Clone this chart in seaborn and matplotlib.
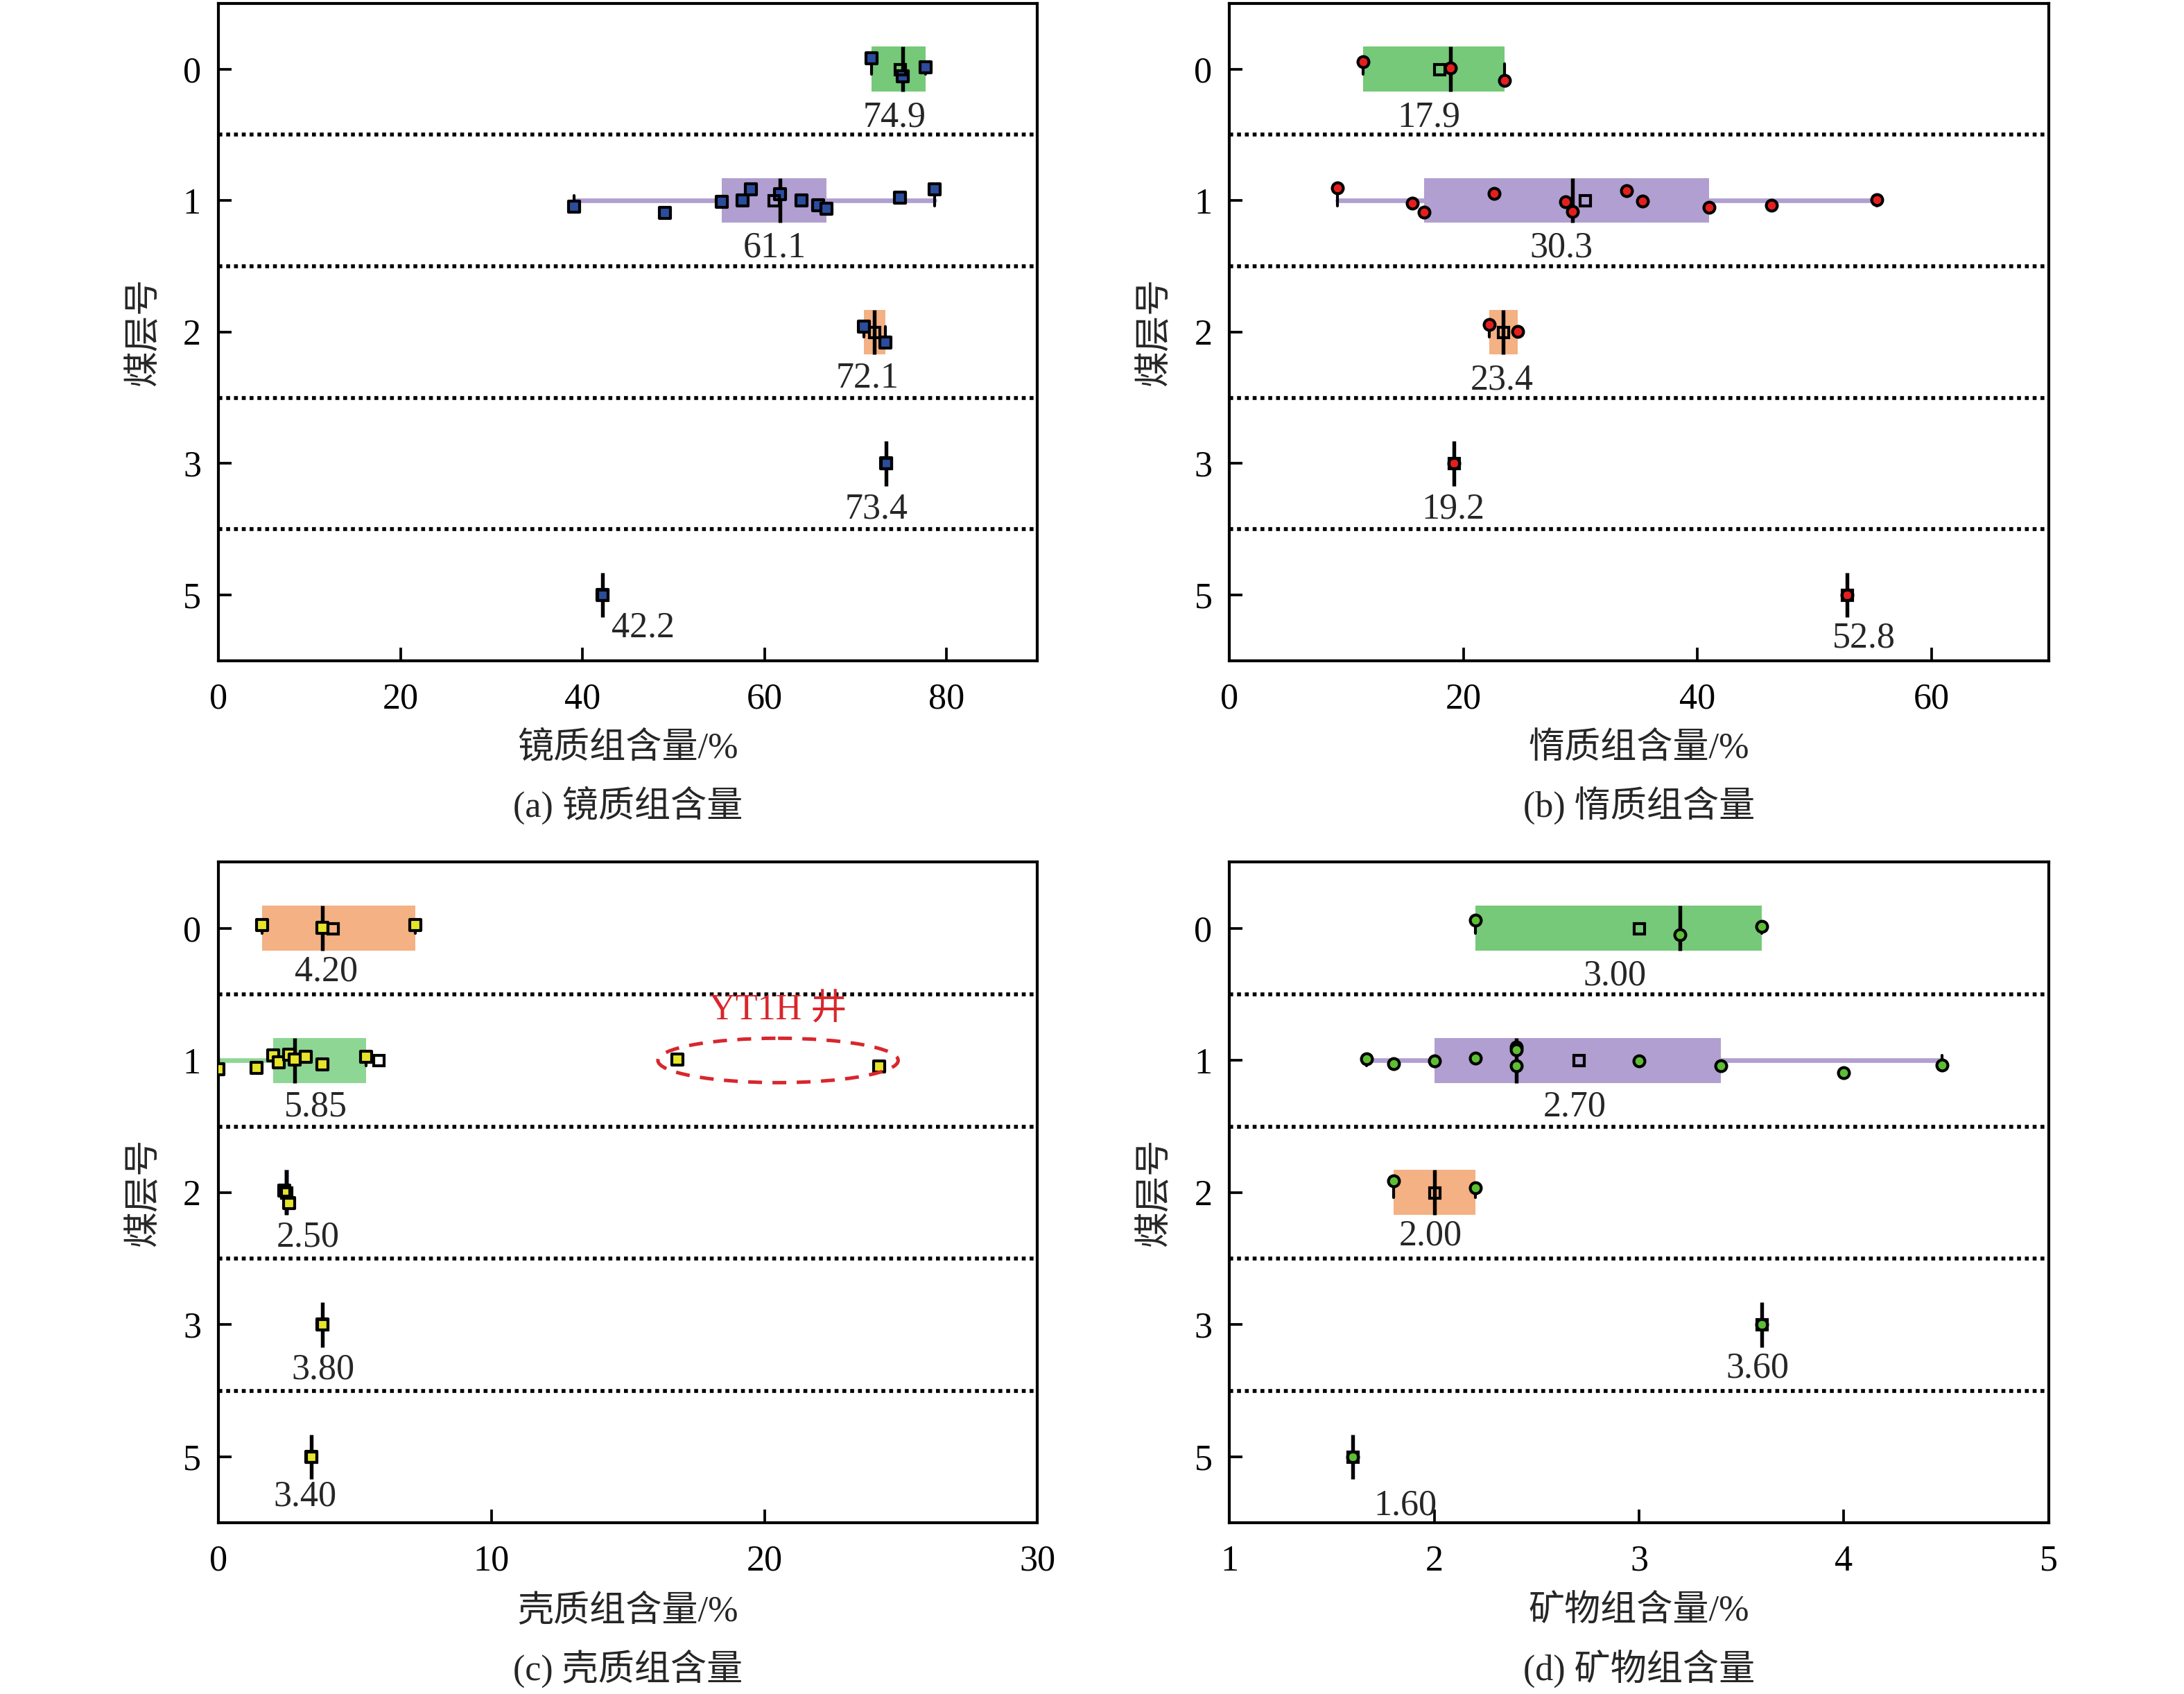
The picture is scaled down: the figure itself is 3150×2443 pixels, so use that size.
import numpy as np
import pandas as pd
import matplotlib
matplotlib.use("Agg")
import matplotlib.pyplot as plt
import seaborn as sns
from matplotlib.patches import Ellipse

# ---------------- data ----------------
seams = ["0", "1", "2", "3", "5"]

# (a) vitrinite content, %
vit_0 = [71.8, 75.2, 77.7]
vit_1 = [39.1, 49.1, 55.3, 57.6, 58.5, 61.7, 64.1, 65.9, 66.8, 74.9, 78.7]
vit_2 = [70.9, 73.3]
vit_3 = [73.4]
vit_5 = [42.2]

# (b) inertinite content, %
ine_0 = [11.4, 18.9, 23.5]
ine_1 = [9.2, 15.6, 16.6, 22.6, 28.7, 29.3, 33.9, 35.3, 41.0, 46.3, 55.3]
ine_2 = [22.2, 24.6]
ine_3 = [19.2]
ine_5 = [52.8]

# (c) exinite content, %
exi_0 = [1.6, 3.8, 7.2]
exi_1 = [0.0, 1.4, 2.0, 2.2, 2.6, 2.8, 3.2, 3.8, 5.4, 16.8, 24.2]
exi_2 = [2.4, 2.6]
exi_3 = [3.8]
exi_5 = [3.4]

# (d) mineral content, %
min_0 = [2.2, 3.2, 3.6]
min_1 = [1.67, 1.8, 2.0, 2.2, 2.4, 2.4, 2.4, 3.0, 3.4, 4.0, 4.48]
min_2 = [1.8, 2.2]
min_3 = [3.6]
min_5 = [1.6]

xlabels = ["镜质组含量/%", "惰质组含量/%", "壳质组含量/%", "矿物组含量/%"]
captions = ["(a) 镜质组含量", "(b) 惰质组含量", "(c) 壳质组含量", "(d) 矿物组含量"]
ylabel = "煤层号"
note_text = "YT1H 井"

# ---------------- style ----------------
sns.set_style("ticks")
plt.rcParams["font.family"] = ["Liberation Serif", "Noto Sans CJK SC", "DejaVu Sans"]
plt.rcParams["axes.unicode_minus"] = False
FS = 12.5

GREEN = "#75C978"
GREEN_L = "#8ED694"
PURPLE = "#B09FD0"
ORANGE = "#F4B183"

panels = [
    dict(groups=[vit_0, vit_1, vit_2, vit_3, vit_5], box=[GREEN, PURPLE, ORANGE, PURPLE, PURPLE],
         pt="#2C4C9C", mk="s", xlim=(0, 90), xticks=[0, 20, 40, 60, 80], dec=1,
         dx=[-0.6, 0.1, -0.8, -1.1, 4.5], dy=[0.37, 0.36, 0.35, 0.35, 0.25],
         rect=[0.100, 0.610, 0.375, 0.388]),
    dict(groups=[ine_0, ine_1, ine_2, ine_3, ine_5], box=[GREEN, PURPLE, ORANGE, PURPLE, PURPLE],
         pt="#E3201E", mk="o", xlim=(0, 70), xticks=[0, 20, 40, 60], dec=1,
         dx=[-0.9, -2.0, -0.1, -0.1, 1.4], dy=[0.37, 0.36, 0.37, 0.35, 0.33],
         rect=[0.563, 0.610, 0.375, 0.388]),
    dict(groups=[exi_0, exi_1, exi_2, exi_3, exi_5], box=[ORANGE, GREEN_L, PURPLE, PURPLE, PURPLE],
         pt="#E5E52B", mk="s", xlim=(0, 30), xticks=[0, 10, 20, 30], dec=2,
         dx=[-0.24, -2.3, 0.78, 0.04, -0.22], dy=[0.33, 0.35, 0.34, 0.34, 0.30],
         rect=[0.100, 0.101, 0.375, 0.390]),
    dict(groups=[min_0, min_1, min_2, min_3, min_5], box=[GREEN, PURPLE, ORANGE, PURPLE, PURPLE],
         pt="#5DBE34", mk="o", xlim=(1, 5), xticks=[1, 2, 3, 4, 5], dec=2,
         dx=[-0.12, -0.02, -0.02, -0.02, 0.26], dy=[0.36, 0.35, 0.33, 0.33, 0.37],
         rect=[0.563, 0.101, 0.375, 0.390]),
]


def box_stats(vals):
    v = np.sort(np.asarray(vals, float))
    q1, med, q3 = np.percentile(v, [25, 50, 75], method="weibull")
    iqr = q3 - q1
    lo = v[v >= q1 - 1.5 * iqr].min()
    hi = v[v <= q3 + 1.5 * iqr].max()
    return dict(med=med, q1=q1, q3=q3, whislo=lo, whishi=hi, mean=v.mean(), fliers=[])


np.random.seed(7)
fig = plt.figure(figsize=(10.5, 2443 / 300), dpi=300)

for k, p in enumerate(panels):
    ax = fig.add_axes(p["rect"])
    # boxes
    for i, g in enumerate(p["groups"]):
        st = box_stats(g)
        kw = dict(positions=[i], widths=0.34, patch_artist=True, showfliers=False,
                  boxprops=dict(facecolor=p["box"][i], edgecolor="none", linewidth=0),
                  whiskerprops=dict(color=p["box"][i], linewidth=1.6),
                  capprops=dict(color="black", linewidth=1.0),
                  medianprops=dict(color="black", linewidth=1.3),
                  capwidths=0.08, manage_ticks=False, zorder=2)
        try:
            ax.bxp([st], orientation="horizontal", **kw)
        except TypeError:
            ax.bxp([st], vert=False, **kw)

    # data points
    df = pd.DataFrame({
        "seam": [s for s, g in zip(seams, p["groups"]) for _ in g],
        "value": [v for g in p["groups"] for v in g],
    })
    sns.stripplot(data=df, x="value", y="seam", order=seams, orient="h", jitter=0.1,
                  color=p["pt"], marker=p["mk"], size=3.8, edgecolor="black",
                  linewidth=1.0, ax=ax, zorder=3)

    # mean markers and labels
    means = [float(np.mean(g)) for g in p["groups"]]
    ax.plot(means, range(len(seams)), ls="none", marker="s", ms=3.6, mfc="none",
            mec="black", mew=1.0, zorder=4)
    for i, m in enumerate(means):
        ax.text(m + p["dx"][i], i + p["dy"][i], f"{m:.{p['dec']}f}", ha="center",
                va="center", fontsize=FS, zorder=5)

    # separators
    for y in [0.5, 1.5, 2.5, 3.5]:
        ax.axhline(y, color="black", lw=1.35, ls=(0, (1, 1.0)), zorder=1)

    ax.set_xlim(*p["xlim"])
    ax.set_xticks(p["xticks"])
    ax.set_ylim(4.5, -0.5)
    ax.set_yticks(range(len(seams)))
    ax.set_yticklabels(seams)
    ax.set_xlabel("")
    ax.set_ylabel("")
    ax.tick_params(axis="both", direction="in", length=4.5, width=0.9, labelsize=FS,
                   colors="black")
    ax.tick_params(axis="x", pad=7.5)
    ax.tick_params(axis="y", pad=6)
    for sp in ax.spines.values():
        sp.set_visible(True)
        sp.set_linewidth(1.0)
        sp.set_color("black")

    ax.text(0.5, -0.134, xlabels[k], transform=ax.transAxes, ha="center", va="center",
            fontsize=FS)
    ax.text(0.5, -0.22, captions[k], transform=ax.transAxes, ha="center", va="center",
            fontsize=FS)
    ax.text(-0.091, 0.5, ylabel, transform=ax.transAxes, ha="center", va="center",
            rotation=90, fontsize=FS)

    if k == 2:
        ax.add_patch(Ellipse((20.5, 1.0), 8.8, 0.336, fill=False, edgecolor="#D8262C",
                             lw=1.2, ls=(0, (4, 3)), zorder=5))
        ax.text(20.5, 0.62, note_text, ha="center", va="center", color="#D8262C",
                fontsize=FS, zorder=5)

fig.savefig("out.png", dpi=300)
